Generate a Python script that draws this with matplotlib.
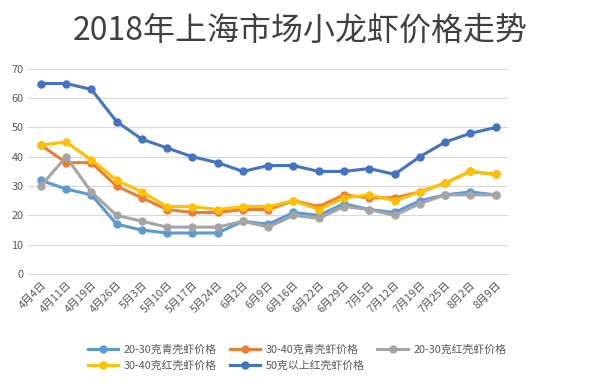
import matplotlib
matplotlib.use('Agg')
import matplotlib.pyplot as plt

plt.rcParams['font.family'] = ['Noto Sans CJK SC', 'DejaVu Sans']

# Datas das cotações
datas = ['4月4日', '4月11日', '4月19日', '4月26日', '5月3日', '5月10日', '5月17日',
         '5月24日', '6月2日', '6月9日', '6月16日', '6月22日', '6月29日', '7月5日',
         '7月12日', '7月19日', '7月25日', '8月2日', '8月9日']

# Preços de cada categoria
qing_20_30 = [32, 29, 27, 17, 15, 14, 14, 14, 18, 17, 21, 20, 24, 22, 21, 25, 27, 28, 27]
qing_30_40 = [44, 38, 38, 30, 26, 22, 21, 21, 22, 22, 25, 23, 27, 26, 26, 28, 31, 35, 34]
hong_20_30 = [30, 40, 28, 20, 18, 16, 16, 16, 18, 16, 20, 19, 23, 22, 20, 24, 27, 27, 27]
hong_30_40 = [44, 45, 39, 32, 28, 23, 23, 22, 23, 23, 25, 22, 26, 27, 25, 28, 31, 35, 34]
hong_50 = [65, 65, 63, 52, 46, 43, 40, 38, 35, 37, 37, 35, 35, 36, 34, 40, 45, 48, 50]

series = [
    ('20-30克青壳虾价格', qing_20_30, '#5B9BD5'),
    ('30-40克青壳虾价格', qing_30_40, '#ED7D31'),
    ('20-30克红壳虾价格', hong_20_30, '#A5A5A5'),
    ('30-40克红壳虾价格', hong_30_40, '#FFC000'),
    ('50克以上红壳虾价格', hong_50, '#4472C4'),
]

fig = plt.figure(figsize=(6, 3.87), dpi=100)
ax = fig.add_axes([0.047, 0.292, 0.8, 0.53])

x = list(range(len(datas)))
linhas = []
for nome, valores, cor in series:
    l, = ax.plot(x, valores, color=cor, linewidth=2.2, marker='o', markersize=5, label=nome)
    linhas.append(l)

ax.set_xlim(-0.5, len(datas) - 0.5)
ax.set_ylim(0, 70)
ax.set_yticks(range(0, 71, 10))
ax.set_xticks(x)
ax.set_xticklabels(datas, rotation=45, ha='right', rotation_mode='anchor', fontsize=7.8, color='#595959')
ax.tick_params(axis='y', labelsize=7.8, labelcolor='#595959', length=0)
ax.tick_params(axis='x', length=0, pad=4)
ax.grid(axis='y', color='#D9D9D9', linewidth=0.8)
ax.set_axisbelow(True)
for lado in ['top', 'right', 'left']:
    ax.spines[lado].set_visible(False)
ax.spines['bottom'].set_color('#D9D9D9')

fig.suptitle('2018年上海市场小龙虾价格走势', fontsize=23, color='#404040', x=0.5, y=0.96)

# Reordenando para preencher a legenda por linha
ordem = [0, 3, 1, 4, 2]
leg = fig.legend([linhas[i] for i in ordem], [series[i][0] for i in ordem],
                 loc='center', bbox_to_anchor=(0.495, 0.075), ncol=3, frameon=False,
                 fontsize=7.8, handlelength=2.8, handletextpad=0.5,
                 columnspacing=1.2, labelspacing=0.55)
for t in leg.get_texts():
    t.set_color('#595959')

fig.savefig('out.png', dpi=100)
